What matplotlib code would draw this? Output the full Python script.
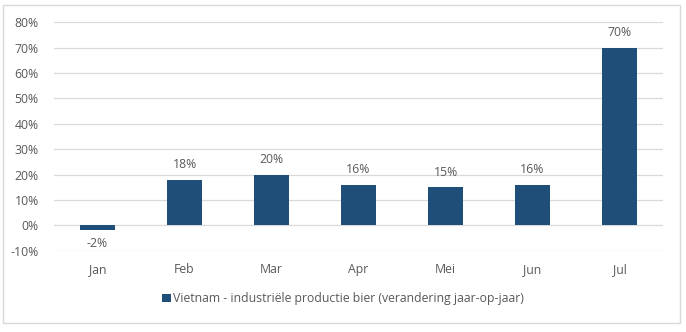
import matplotlib
matplotlib.use("Agg")
import matplotlib.pyplot as plt
from matplotlib.patches import Rectangle
from matplotlib.ticker import FuncFormatter

# monthly year-on-year change, percent
maanden = ["Jan", "Feb", "Mar", "Apr", "Mei", "Jun", "Jul"]
groei = [-2, 18, 20, 16, 15, 16, 70]
yticks = [-10, 0, 10, 20, 30, 40, 50, 60, 70, 80]

BLAUW = "#1F4E79"
GRIJS = "#595959"

plt.rcParams["font.family"] = ["Open Sans", "DejaVu Sans"]

fig = plt.figure(figsize=(6.86, 3.32), dpi=100)
ax = fig.add_axes([0.0787, 0.244, 0.8878, 0.6898])

x = range(len(maanden))
bars = ax.bar(x, groei, width=0.4, color=BLAUW, zorder=3,
              label="Vietnam - industriële productie bier (verandering jaar-op-jaar)")

for xi, v in zip(x, groei):
    if v >= 0:
        ax.annotate(f"{v}%", (xi, v), xytext=(0, 6), textcoords="offset points",
                    ha="center", va="bottom", fontsize=8.8, color=GRIJS)
    else:
        ax.annotate(f"{v}%", (xi, v), xytext=(0, -5), textcoords="offset points",
                    ha="center", va="top", fontsize=8.8, color=GRIJS)

ax.set_xlim(-0.5, len(maanden) - 0.5)
ax.set_ylim(-10.1, 80.1)
ax.set_yticks(yticks)
ax.yaxis.set_major_formatter(FuncFormatter(lambda v, p: f"{v:.0f}%"))
ax.set_xticks(list(x))
ax.set_xticklabels(maanden)
ax.tick_params(axis="both", length=0, labelsize=8.8, colors=GRIJS)
ax.tick_params(axis="y", pad=11)
ax.tick_params(axis="x", pad=9)
ax.grid(axis="y", color="#D9D9D9", linewidth=0.9, zorder=0)
for s in ax.spines.values():
    s.set_visible(False)

leg = fig.legend(loc="center", bbox_to_anchor=(0.5, 0.1), frameon=False,
                 fontsize=8.8, handlelength=0.7, handleheight=0.7, handletextpad=0.2,
                 labelcolor=GRIJS)

# outer chart border
fig.patches.append(Rectangle((3 / 686, 1 - 323 / 332), 677 / 686, 318 / 332,
                             transform=fig.transFigure, fill=False,
                             edgecolor="#D9D9D9", linewidth=1))

fig.savefig("out.png", dpi=100)
